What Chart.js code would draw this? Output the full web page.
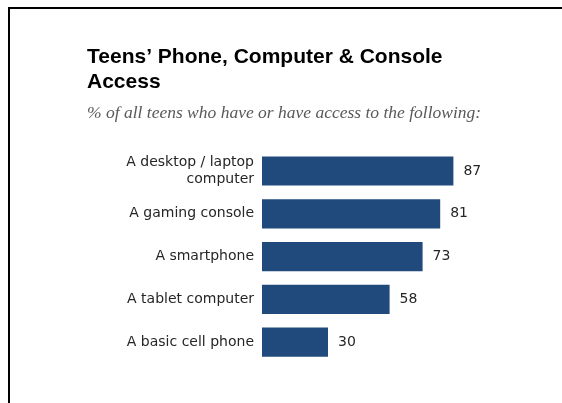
<!DOCTYPE html>
<html>
<head>
<meta charset="utf-8">
<script src="https://cdn.jsdelivr.net/npm/chart.js@4"></script>
<style>
    body { margin: 0; background: #fff; overflow: hidden; }
    #frame {
        position: absolute; left: 8px; top: 7px; width: 600px; height: 500px;
        border-top: 2px solid #000; border-left: 2px solid #000;
    }
    #canvas { position: absolute; left: 0; top: 0; }
</style>
</head>
<body>
<div id="frame"></div>
<canvas id="canvas" width="562" height="403"></canvas>
<script>
var titleLines = ['Teens\u2019 Phone, Computer & Console', 'Access'];
var subtitleText = '% of all teens who have or have access to the following:';

var categories = [
    ['A desktop / laptop', 'computer'],
    'A gaming console',
    'A smartphone',
    'A tablet computer',
    'A basic cell phone'
];
var percents = [87, 81, 73, 58, 30];

var barColor = '#204a7c';
var textColor = '#262626';

// value labels at the end of each bar
var valueLabels = {
    id: 'valueLabels',
    afterDatasetsDraw: function(chart) {
        var ctx = chart.ctx;
        var meta = chart.getDatasetMeta(0);
        ctx.save();
        ctx.font = '14px "DejaVu Sans"';
        ctx.fillStyle = textColor;
        ctx.textAlign = 'left';
        ctx.textBaseline = 'middle';
        meta.data.forEach(function(bar, i) {
            ctx.fillText(String(percents[i]), bar.x + 10, bar.y);
        });
        ctx.restore();
    }
};

var config = {
    type: 'bar',
    data: {
        labels: categories,
        datasets: [{
            data: percents,
            backgroundColor: barColor,
            borderWidth: 0,
            barPercentage: 0.68,
            categoryPercentage: 1
        }]
    },
    options: {
        indexAxis: 'y',
        responsive: false,
        animation: false,
        devicePixelRatio: 1,
        layout: {
            padding: { left: 87, right: 80, top: 0, bottom: 39.5 }
        },
        plugins: {
            legend: { display: false },
            tooltip: { enabled: false },
            title: {
                display: true,
                text: titleLines,
                align: 'start',
                color: '#000',
                font: { family: '"Liberation Sans", Arial, sans-serif', size: 21, weight: 'bold', lineHeight: 25 / 21 },
                padding: { top: 44.5, bottom: 0 }
            },
            subtitle: {
                display: true,
                text: subtitleText,
                align: 'start',
                color: '#595959',
                font: { family: '"Liberation Serif", serif', size: 17.5, style: 'italic', lineHeight: 20 / 17.5 },
                padding: { top: 8.6, bottom: 26.6 }
            }
        },
        scales: {
            x: {
                display: false,
                min: 0,
                max: 100
            },
            y: {
                grid: { display: false, drawTicks: false },
                border: { display: false },
                ticks: {
                    color: textColor,
                    padding: 8,
                    font: { family: '"DejaVu Sans"', size: 14, lineHeight: 1.2 }
                },
                afterFit: function(scale) {
                    scale.width = 175;
                }
            }
        }
    },
    plugins: [valueLabels]
};

window.onload = function() {
    var ctx = document.getElementById('canvas').getContext('2d');
    window.myBar = new Chart(ctx, config);
};
</script>
</body>
</html>
